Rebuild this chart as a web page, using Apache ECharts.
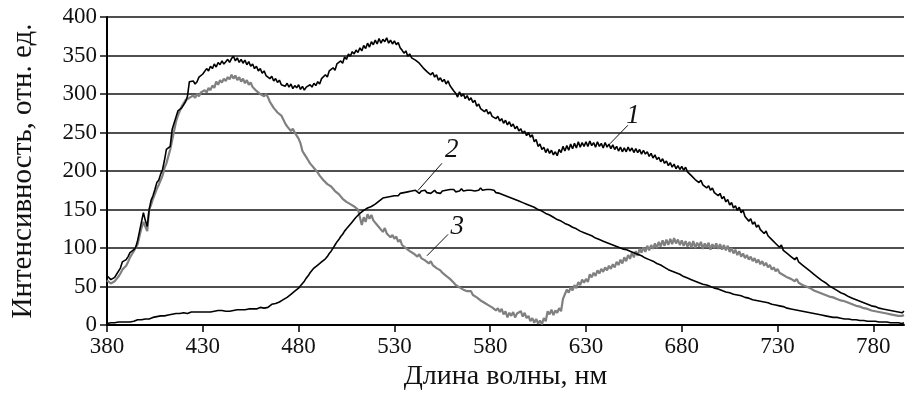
<!DOCTYPE html>
<html>
<head>
<meta charset="utf-8">
<style>
  html, body { margin: 0; padding: 0; background: #fff; }
  #chart { width: 905px; height: 396px; }
</style>
<script src="https://cdn.jsdelivr.net/npm/echarts@6/dist/echarts.min.js"></script>
</head>
<body>
<div id="chart"></div>
<script>
// Wavelength grid, nm (1 nm step)
const wavelengths = [
  380, 381, 382, 383, 384, 385, 386, 387, 388, 389,
  390, 391, 392, 393, 394, 395, 396, 397, 398, 399,
  400, 401, 402, 403, 404, 405, 406, 407, 408, 409,
  410, 411, 412, 413, 414, 415, 416, 417, 418, 419,
  420, 421, 422, 423, 424, 425, 426, 427, 428, 429,
  430, 431, 432, 433, 434, 435, 436, 437, 438, 439,
  440, 441, 442, 443, 444, 445, 446, 447, 448, 449,
  450, 451, 452, 453, 454, 455, 456, 457, 458, 459,
  460, 461, 462, 463, 464, 465, 466, 467, 468, 469,
  470, 471, 472, 473, 474, 475, 476, 477, 478, 479,
  480, 481, 482, 483, 484, 485, 486, 487, 488, 489,
  490, 491, 492, 493, 494, 495, 496, 497, 498, 499,
  500, 501, 502, 503, 504, 505, 506, 507, 508, 509,
  510, 511, 512, 513, 514, 515, 516, 517, 518, 519,
  520, 521, 522, 523, 524, 525, 526, 527, 528, 529,
  530, 531, 532, 533, 534, 535, 536, 537, 538, 539,
  540, 541, 542, 543, 544, 545, 546, 547, 548, 549,
  550, 551, 552, 553, 554, 555, 556, 557, 558, 559,
  560, 561, 562, 563, 564, 565, 566, 567, 568, 569,
  570, 571, 572, 573, 574, 575, 576, 577, 578, 579,
  580, 581, 582, 583, 584, 585, 586, 587, 588, 589,
  590, 591, 592, 593, 594, 595, 596, 597, 598, 599,
  600, 601, 602, 603, 604, 605, 606, 607, 608, 609,
  610, 611, 612, 613, 614, 615, 616, 617, 618, 619,
  620, 621, 622, 623, 624, 625, 626, 627, 628, 629,
  630, 631, 632, 633, 634, 635, 636, 637, 638, 639,
  640, 641, 642, 643, 644, 645, 646, 647, 648, 649,
  650, 651, 652, 653, 654, 655, 656, 657, 658, 659,
  660, 661, 662, 663, 664, 665, 666, 667, 668, 669,
  670, 671, 672, 673, 674, 675, 676, 677, 678, 679,
  680, 681, 682, 683, 684, 685, 686, 687, 688, 689,
  690, 691, 692, 693, 694, 695, 696, 697, 698, 699,
  700, 701, 702, 703, 704, 705, 706, 707, 708, 709,
  710, 711, 712, 713, 714, 715, 716, 717, 718, 719,
  720, 721, 722, 723, 724, 725, 726, 727, 728, 729,
  730, 731, 732, 733, 734, 735, 736, 737, 738, 739,
  740, 741, 742, 743, 744, 745, 746, 747, 748, 749,
  750, 751, 752, 753, 754, 755, 756, 757, 758, 759,
  760, 761, 762, 763, 764, 765, 766, 767, 768, 769,
  770, 771, 772, 773, 774, 775, 776, 777, 778, 779,
  780, 781, 782, 783, 784, 785, 786, 787, 788, 789,
  790, 791, 792, 793, 794, 795, 796
];

// Spectrum 1 (black, upper curve)
const spectrum1 = [
  64, 62, 59, 61, 62, 66, 68, 74, 82, 80,
  85, 89, 94, 96, 98, 101, 110, 122, 134, 146,
  136, 128, 150, 162, 168, 176, 185, 188, 196, 202,
  214, 228, 226, 232, 254, 262, 270, 278, 276, 282,
  286, 290, 297, 316, 314, 317, 313, 316, 322, 320,
  326, 324, 333, 330, 336, 333, 339, 335, 341, 338,
  343, 339, 342, 345, 341, 346, 349, 343, 347, 341,
  345, 340, 344, 338, 342, 336, 339, 333, 336, 330,
  333, 327, 330, 324, 326, 320, 323, 317, 320, 315,
  318, 312, 314, 310, 314, 309, 313, 307, 311, 308,
  312, 306, 310, 305, 309, 307, 312, 309, 314, 311,
  316, 313, 320, 318, 325, 322, 330, 328, 334, 331,
  339, 337, 343, 340, 348, 345, 352, 349, 355, 352,
  357, 354, 360, 356, 363, 359, 366, 361, 368, 364,
  370, 365, 372, 366, 371, 368, 373, 366, 370, 365,
  369, 364, 367, 360, 357, 353, 356, 349, 352, 347,
  349, 344, 346, 340, 342, 334, 336, 329, 331, 325,
  328, 322, 325, 318, 321, 316, 319, 313, 317, 311,
  313, 304, 301, 296, 303, 297, 300, 294, 298, 292,
  295, 289, 292, 284, 287, 281, 283, 277, 280, 274,
  277, 271, 273, 268, 271, 265, 268, 262, 266, 260,
  264, 258, 261, 255, 258, 252, 255, 249, 252, 246,
  250, 244, 247, 238, 241, 232, 235, 228, 231, 224,
  229, 223, 227, 221, 225, 220, 228, 224, 232, 226,
  233, 227, 235, 229, 236, 230, 238, 231, 237, 232,
  238, 232, 239, 233, 237, 231, 238, 232, 236, 230,
  237, 231, 235, 229, 234, 228, 232, 226, 231, 225,
  230, 225, 231, 226, 230, 224, 229, 224, 228, 222,
  227, 222, 225, 219, 223, 217, 221, 215, 218, 212,
  216, 210, 213, 207, 211, 205, 209, 203, 207, 202,
  206, 201, 205, 199, 201, 194, 196, 189, 191, 185,
  188, 182, 184, 178, 181, 175, 178, 172, 174, 168,
  171, 164, 167, 160, 163, 156, 159, 152, 155, 149,
  153, 146, 149, 141, 143, 135, 138, 131, 134, 127,
  130, 124, 126, 119, 122, 116, 118, 111, 113, 106,
  108, 101, 104, 97, 99, 93, 95, 89, 91, 85,
  88, 82, 84, 78, 80, 74, 76, 70, 72, 66,
  68, 62, 64, 58, 60, 55, 57, 51, 53, 48,
  50, 45, 47, 42, 44, 40, 41, 37, 39, 35,
  37, 33, 35, 31, 33, 29, 31, 27, 29, 25,
  27, 24, 26, 22, 24, 21, 23, 20, 22, 19,
  21, 18, 20, 17, 19, 16, 18
];

// Spectrum 2 (black, lower curve)
const spectrum2 = [
  2, 2, 3, 2, 3, 3, 4, 3, 4, 4,
  4, 5, 4, 5, 5, 6, 7, 6, 7, 6,
  8, 7, 8, 9, 10, 9, 11, 10, 12, 11,
  12, 13, 13, 12, 14, 13, 15, 14, 15, 14,
  16, 15, 15, 16, 17, 15, 17, 16, 17, 16,
  17, 18, 17, 18, 17, 18, 18, 17, 19, 18,
  19, 18, 18, 19, 18, 20, 19, 18, 20, 19,
  20, 19, 20, 20, 21, 20, 21, 22, 21, 22,
  23, 22, 22, 24, 23, 24, 27, 26, 28, 29,
  30, 31, 33, 34, 36, 38, 40, 42, 44, 46,
  48, 51, 54, 57, 61, 64, 68, 70, 74, 75,
  78, 80, 82, 84, 86, 89, 93, 96, 100, 104,
  108, 111, 115, 118, 122, 125, 128, 131, 134, 137,
  140, 142, 145, 147, 149, 150, 152, 153, 154, 156,
  157, 159, 161, 163, 165, 164, 166, 167, 167, 169,
  168, 170, 168, 171, 169, 172, 170, 173, 171, 174,
  172, 175, 173, 171, 174, 172, 175, 172, 174, 171,
  173, 175, 172, 174, 171, 174, 172, 175, 173, 176,
  174, 176, 173, 175, 174, 177, 174, 176, 175, 177,
  175, 177, 174, 176, 175, 178, 175, 177, 176, 175,
  176, 174, 175, 172, 173, 171, 171, 169, 170, 167,
  168, 165, 166, 163, 164, 161, 162, 159, 160, 157,
  158, 155, 156, 153, 154, 150, 151, 148, 149, 145,
  146, 143, 144, 140, 141, 137, 138, 135, 135, 132,
  133, 130, 131, 127, 128, 125, 126, 122, 123, 120,
  121, 118, 119, 116, 116, 113, 114, 111, 112, 109,
  110, 107, 108, 105, 106, 103, 104, 101, 102, 99,
  100, 98, 98, 96, 97, 94, 94, 92, 92, 90,
  89, 87, 87, 85, 85, 83, 83, 80, 81, 78,
  77, 75, 75, 72, 73, 70, 71, 68, 69, 66,
  66, 63, 64, 61, 62, 59, 60, 57, 58, 55,
  56, 53, 54, 52, 52, 50, 51, 48, 49, 47,
  48, 45, 46, 43, 44, 42, 42, 40, 41, 39,
  40, 38, 38, 36, 37, 35, 35, 33, 34, 32,
  33, 31, 32, 30, 30, 29, 29, 27, 28, 26,
  26, 25, 25, 24, 24, 22, 23, 21, 22, 20,
  21, 19, 20, 18, 19, 17, 17, 16, 16, 15,
  15, 14, 14, 13, 13, 12, 12, 11, 12, 10,
  11, 10, 10, 9, 10, 8, 9, 8, 8, 7,
  8, 7, 7, 6, 7, 6, 6, 5, 6, 5,
  6, 5, 5, 4, 5, 4, 5, 4, 4, 3,
  4, 3, 4, 3, 3, 2, 3
];

// Spectrum 3 (grey curve)
const spectrum3 = [
  58, 56, 54, 55, 57, 60, 63, 67, 72, 74,
  77, 82, 88, 92, 96, 101, 105, 116, 126, 134,
  128, 122, 150, 156, 164, 170, 177, 182, 188, 194,
  204, 210, 219, 228, 240, 252, 264, 272, 278, 284,
  288, 292, 290, 295, 293, 298, 295, 300, 297, 302,
  300, 305, 302, 308, 305, 311, 308, 316, 312, 318,
  315, 320, 317, 322, 319, 325, 320, 324, 318, 322,
  316, 320, 314, 318, 312, 315, 309, 311, 304, 306,
  300, 302, 297, 300, 296, 290, 286, 282, 280, 276,
  278, 272, 270, 262, 258, 256, 252, 255, 250, 246,
  242, 236, 226, 222, 218, 214, 210, 207, 204, 201,
  198, 194, 192, 188, 186, 183, 185, 180, 177, 174,
  175, 170, 168, 164, 165, 160, 161, 157, 158, 154,
  155, 150, 148, 130, 140, 134, 144, 138, 143, 136,
  138, 130, 127, 124, 121, 126, 119, 121, 114, 117,
  112, 115, 108, 111, 104, 106, 100, 102, 96, 98,
  93, 95, 89, 92, 87, 89, 84, 86, 80, 83,
  78, 80, 74, 76, 71, 68, 70, 64, 66, 60,
  58, 55, 52, 54, 49, 51, 46, 48, 44, 42,
  44, 39, 41, 36, 38, 32, 34, 29, 31, 26,
  27, 23, 25, 19, 22, 17, 21, 14, 18, 10,
  16, 12, 17, 10, 15, 13, 18, 11, 16, 9,
  12, 5, 9, 3, 8, 2, 6, 1, 9, 5,
  18, 14, 20, 13, 19, 16, 22, 18, 34, 40,
  46, 42, 49, 45, 52, 48, 56, 52, 59, 55,
  60, 56, 66, 62, 68, 64, 71, 67, 73, 69,
  75, 71, 77, 73, 79, 75, 82, 78, 85, 80,
  88, 83, 91, 86, 94, 88, 96, 90, 99, 94,
  101, 95, 103, 97, 104, 99, 106, 100, 108, 102,
  110, 103, 111, 104, 112, 105, 113, 106, 111, 104,
  110, 103, 109, 102, 108, 101, 109, 100, 107, 102,
  108, 99, 106, 101, 107, 98, 105, 100, 106, 99,
  105, 98, 104, 97, 103, 95, 100, 93, 98, 91,
  96, 89, 93, 87, 91, 85, 89, 83, 87, 81,
  85, 79, 83, 77, 81, 75, 78, 72, 75, 70,
  73, 68, 70, 65, 67, 62, 64, 60, 62, 57,
  60, 55, 57, 52, 54, 50, 52, 48, 49, 45,
  47, 43, 45, 41, 43, 39, 41, 37, 39, 36,
  37, 34, 36, 32, 34, 31, 32, 29, 30, 27,
  28, 25, 27, 24, 25, 22, 24, 21, 22, 19,
  21, 18, 20, 17, 18, 16, 17, 15, 16, 14,
  15, 13, 14, 12, 14, 12, 13
];

// Axis ticks
const xTicks = [380, 430, 480, 530, 580, 630, 680, 730, 780];
const yTicks = [0, 50, 100, 150, 200, 250, 300, 350, 400];

// Curve numbers with their leader lines
const curveTags = ['1', '2', '3'];
const tagPoints = [[654.5, 272], [560, 228], [562.8, 128]];
const leaderFrom = [[651.9, 259.5], [554.8, 210], [558, 117.7]];
const leaderTo = [[642.5, 235.4], [542.3, 174.7], [547, 90]];

const serif = '"Liberation Serif", "Times New Roman", "DejaVu Serif", serif';

function pairs(ys) {
  return wavelengths.map((x, i) => [x, ys[i]]);
}

const chart = echarts.init(document.getElementById('chart'), null, { renderer: 'canvas' });

const option = {
  backgroundColor: '#ffffff',
  animation: false,
  grid: { left: 107, right: 1, top: 17, bottom: 63, containLabel: false },
  xAxis: {
    type: 'value',
    min: 380,
    max: 796,
    name: 'Длина волны, нм',
    nameLocation: 'middle',
    nameGap: 31,
    nameTextStyle: { fontFamily: serif, fontSize: 28, color: '#111' },
    axisLine: { show: true, onZero: false, lineStyle: { color: '#000', width: 2 } },
    axisTick: { show: true, customValues: xTicks, length: 7, lineStyle: { color: '#000', width: 1.5 } },
    axisLabel: {
      customValues: xTicks,
      margin: 10,
      fontFamily: serif,
      fontSize: 23,
      color: '#111'
    },
    splitLine: { show: false }
  },
  yAxis: {
    type: 'value',
    min: 0,
    max: 400,
    interval: 50,
    name: 'Интенсивность, отн. ед.',
    nameLocation: 'middle',
    nameGap: 69,
    nameTextStyle: { fontFamily: serif, fontSize: 29, color: '#111' },
    axisLine: { show: true, lineStyle: { color: '#000', width: 2 } },
    axisTick: { show: true, length: 7, lineStyle: { color: '#111', width: 1.5 } },
    axisLabel: {
      customValues: yTicks,
      margin: 10,
      padding: [5, 0, 0, 0],
      fontFamily: serif,
      fontSize: 23,
      color: '#111'
    },
    splitLine: { show: true, lineStyle: { color: '#151515', width: 1.5 } }
  },
  series: [
    {
      name: '3',
      type: 'line',
      data: pairs(spectrum3),
      showSymbol: false,
      sampling: null,
      lineStyle: { color: '#808080', width: 2.2 },
      z: 3
    },
    {
      name: '2',
      type: 'line',
      data: pairs(spectrum2),
      showSymbol: false,
      sampling: null,
      lineStyle: { color: '#000', width: 1.6 },
      z: 4
    },
    {
      name: '1',
      type: 'line',
      data: pairs(spectrum1),
      showSymbol: false,
      sampling: null,
      lineStyle: { color: '#000', width: 1.6 },
      z: 4,
      markLine: {
        silent: true,
        symbol: 'none',
        label: { show: false },
        lineStyle: { color: '#111', width: 1, type: 'solid' },
        data: leaderFrom.map((p, i) => [{ coord: p }, { coord: leaderTo[i] }])
      }
    }
  ]
};

chart.setOption(option);

// Italic curve numbers placed in data coordinates
chart.setOption({
  graphic: curveTags.map((t, i) => {
    const p = chart.convertToPixel({ gridIndex: 0 }, tagPoints[i]);
    return {
      type: 'text',
      x: p[0],
      y: p[1],
      z: 10,
      style: {
        text: t,
        fontFamily: serif,
        fontStyle: 'italic',
        fontSize: 27,
        fill: '#111',
        align: 'center',
        verticalAlign: 'middle'
      }
    };
  })
});
</script>
</body>
</html>
